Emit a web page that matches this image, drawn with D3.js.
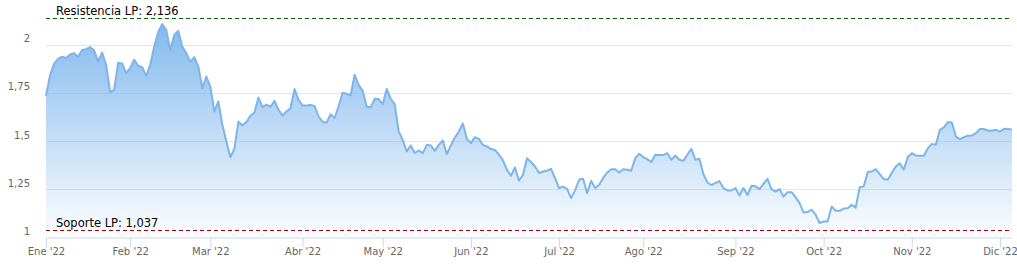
<!DOCTYPE html>
<html>
<head>
<meta charset="utf-8">
<script src="https://cdn.jsdelivr.net/npm/d3@7"></script>
<style>
    body { margin: 0; background: #fff; }
    #chart text { font-family: "DejaVu Sans", sans-serif; }
</style>
</head>
<body>
<div id="chart"></div>
<script>
// month labels and daily closing values, one array per month
const monthLabels = ["Ene '22", "Feb '22", "Mar '22", "Abr '22", "May '22", "Jun '22",
    "Jul '22", "Ago '22", "Sep '22", "Oct '22", "Nov '22", "Dic '22"];

const ene = [1.734, 1.84, 1.90, 1.925, 1.937, 1.93, 1.948, 1.955, 1.935, 1.972, 1.976, 1.987, 1.970, 1.912, 1.958, 1.895, 1.753, 1.765, 1.906, 1.902, 1.852];
const feb = [1.878, 1.921, 1.89, 1.883, 1.838, 1.895, 1.99, 2.065, 2.106, 2.076, 1.973, 2.05, 2.071, 1.99, 1.955, 1.91, 1.935, 1.886, 1.774, 1.834];
const mar = [1.782, 1.653, 1.705, 1.584, 1.497, 1.415, 1.46, 1.601, 1.58, 1.598, 1.631, 1.648, 1.725, 1.676, 1.688, 1.677, 1.708, 1.662, 1.632, 1.653, 1.67, 1.769, 1.713];
const abr = [1.684, 1.684, 1.686, 1.682, 1.627, 1.60, 1.595, 1.639, 1.619, 1.68, 1.75, 1.745, 1.736, 1.843, 1.791, 1.76, 1.679, 1.674, 1.719, 1.717];
const may = [1.691, 1.77, 1.719, 1.691, 1.549, 1.506, 1.446, 1.477, 1.437, 1.451, 1.437, 1.48, 1.477, 1.449, 1.48, 1.503, 1.432, 1.477, 1.518, 1.549, 1.591, 1.511];
const jun = [1.489, 1.52, 1.511, 1.48, 1.472, 1.458, 1.454, 1.429, 1.40, 1.351, 1.32, 1.363, 1.294, 1.325, 1.411, 1.391, 1.368, 1.334, 1.342, 1.346, 1.356, 1.308];
const jul = [1.256, 1.264, 1.252, 1.204, 1.244, 1.299, 1.304, 1.23, 1.294, 1.256, 1.273, 1.308, 1.337, 1.354, 1.354, 1.337, 1.354, 1.351, 1.346, 1.411, 1.434];
const ago = [1.417, 1.406, 1.391, 1.429, 1.427, 1.427, 1.437, 1.403, 1.425, 1.403, 1.397, 1.429, 1.46, 1.403, 1.408, 1.33, 1.285, 1.272, 1.282, 1.292, 1.256, 1.244, 1.244];
const sep = [1.256, 1.218, 1.256, 1.22, 1.268, 1.265, 1.251, 1.278, 1.304, 1.251, 1.238, 1.251, 1.212, 1.235, 1.235, 1.209, 1.178, 1.13, 1.132, 1.144, 1.118, 1.075];
const oct = [1.083, 1.083, 1.161, 1.138, 1.138, 1.15, 1.152, 1.169, 1.155, 1.261, 1.264, 1.339, 1.342, 1.354, 1.328, 1.303, 1.299, 1.334, 1.368, 1.385, 1.351, 1.417];
const nov = [1.437, 1.425, 1.423, 1.423, 1.463, 1.485, 1.48, 1.558, 1.57, 1.598, 1.596, 1.523, 1.51, 1.52, 1.527, 1.528, 1.541, 1.562, 1.562, 1.554, 1.553, 1.558];
const dic = [1.549, 1.563, 1.562, 1.56];

const yTicks = [1, 1.25, 1.5, 1.75, 2];
const resistencia = 2.136;
const soporte = 1.037;

const months = [ene, feb, mar, abr, may, jun, jul, ago, sep, oct, nov, dic];

// flatten into trading-day points, remember where every month starts
let data = [];
let monthStarts = [];
months.forEach((m) => {
    monthStarts.push(data.length);
    m.forEach((v) => data.push({ i: data.length, value: v }));
});

const fmt = (v) => String(v).replace(".", ",");

var width = 1017, height = 276;
var margin = { top: 10, right: 5, bottom: 38, left: 46 };

var svg = d3.select("#chart").append("svg")
    .attr("width", width)
    .attr("height", height);

var x = d3.scaleLinear()
    .domain([0, data.length - 1])
    .range([margin.left, width - margin.right]);

var y = d3.scaleLinear()
    .domain([1, 2])
    .range([237.5, 44.5]);

var plotTop = margin.top, plotBottom = y(1);

// gradient fill
var grad = svg.append("defs").append("linearGradient")
    .attr("id", "areaFill")
    .attr("gradientUnits", "userSpaceOnUse")
    .attr("x1", 0).attr("y1", plotTop)
    .attr("x2", 0).attr("y2", plotBottom);
grad.append("stop").attr("offset", "0%").attr("stop-color", "#7cb5ec").attr("stop-opacity", 1);
grad.append("stop").attr("offset", "100%").attr("stop-color", "#7cb5ec").attr("stop-opacity", 0.02);

// horizontal grid
svg.append("g")
    .selectAll("line")
    .data(yTicks.filter((t) => t > 1))
    .join("line")
    .attr("x1", margin.left)
    .attr("x2", width - margin.right)
    .attr("y1", (d) => Math.round(y(d)) + 0.5)
    .attr("y2", (d) => Math.round(y(d)) + 0.5)
    .attr("stroke", "#e6e6e6")
    .attr("stroke-width", 1);

// y-axis labels (sit a little above their grid line)
var yAxis = svg.append("g")
    .attr("transform", `translate(${margin.left - 16}, 0)`)
    .call(d3.axisLeft(y).tickValues(yTicks).tickFormat(fmt).tickSize(0));
yAxis.select(".domain").remove();
yAxis.selectAll("text")
    .attr("x", 0)
    .attr("y", -6)
    .attr("fill", "#666666")
    .style("font-size", "10px");

// area + line
var area = d3.area()
    .x((d) => x(d.i))
    .y0(plotBottom)
    .y1((d) => y(d.value));

var valueLine = d3.line()
    .x((d) => x(d.i))
    .y((d) => y(d.value));

svg.append("path")
    .datum(data)
    .attr("fill", "url(#areaFill)")
    .attr("d", area);

svg.append("path")
    .datum(data)
    .attr("fill", "none")
    .attr("stroke", "#7cb5ec")
    .attr("stroke-width", 2)
    .attr("stroke-linejoin", "round")
    .attr("d", valueLine);

// x-axis
var xAxis = svg.append("g")
    .attr("transform", `translate(0, ${plotBottom})`)
    .call(d3.axisBottom(x)
        .tickValues(monthStarts)
        .tickFormat((d, i) => monthLabels[i])
        .tickSize(10)
        .tickSizeOuter(0));
xAxis.select(".domain").attr("stroke", "#ccd6eb");
xAxis.selectAll(".tick line").attr("stroke", "#ccd6eb");
xAxis.selectAll("text")
    .attr("y", 10.5)
    .attr("fill", "#666666")
    .style("font-size", "10px");

// support / resistance lines
const levels = [
    { value: resistencia, label: "Resistencia LP: " + fmt(resistencia), color: "#006400" },
    { value: soporte, label: "Soporte LP: " + fmt(soporte), color: "#990000" }
];

levels.forEach((l) => {
    svg.append("line")
        .attr("x1", margin.left)
        .attr("x2", width - margin.right)
        .attr("y1", Math.round(y(l.value)) + 0.5)
        .attr("y2", Math.round(y(l.value)) + 0.5)
        .attr("stroke", l.color)
        .attr("stroke-width", 1)
        .attr("stroke-dasharray", "4,3");
    svg.append("text")
        .attr("x", margin.left + 10)
        .attr("y", y(l.value) - 3)
        .attr("fill", "#000")
        .style("font-size", "11.5px")
        .text(l.label);
});
</script>
</body>
</html>
